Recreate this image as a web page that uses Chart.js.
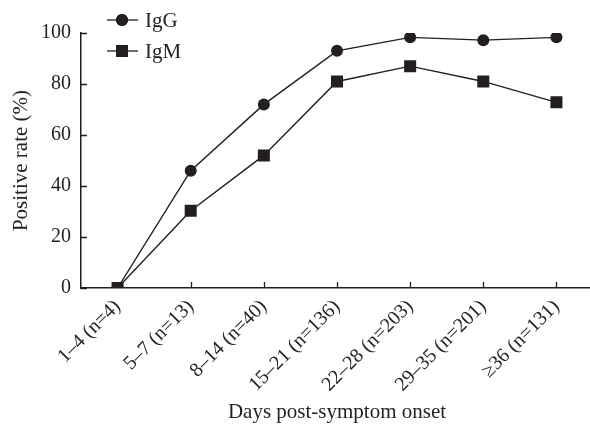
<!DOCTYPE html>
<html>
<head>
<meta charset="utf-8">
<script src="https://cdn.jsdelivr.net/npm/chart.js@4"></script>
<style>
    html, body { margin: 0; padding: 0; background: #fff; overflow: hidden; }
    #charts { width: 593px; height: 433px; }
</style>
</head>
<body>
<div id="charts"><canvas id="myChart"></canvas></div>
<script>
const dias = ['1–4 (n=4)', '5–7 (n=13)', '8–14 (n=40)', '15–21 (n=136)', '22–28 (n=203)', '29–35 (n=201)', '≥36 (n=131)']
const igg = [0, 46, 72, 93, 98.3, 97.2, 98.3]
const igm = [0, 30.3, 52, 81, 87, 81, 72.8]
const ticksY = [0, 20, 40, 60, 80, 100]

const tinta = '#231f20'
const fuente = 'Liberation Serif, Times New Roman, serif'

// marcas de los ejes hacia adentro
const marcas = {
    id: 'marcas',
    beforeDatasetsDraw(chart) {
        const c = chart.ctx
        const xs = chart.scales.x
        const ys = chart.scales.y
        c.save()
        c.strokeStyle = tinta
        c.lineWidth = 1.3
        c.beginPath()
        for (let i = 0; i < xs.ticks.length; i++) {
            const px = Math.round(xs.getPixelForTick(i)) + 0.5
            c.moveTo(px, ys.bottom)
            c.lineTo(px, ys.bottom - 6)
        }
        for (let i = 0; i < ys.ticks.length; i++) {
            const py = Math.round(ys.getPixelForTick(i)) + 0.5
            c.moveTo(xs.left, py)
            c.lineTo(xs.left + 6, py)
        }
        c.stroke()
        c.restore()
    }
}

// leyenda con linea y marcador
const leyenda = {
    id: 'leyenda',
    afterDraw(chart) {
        const c = chart.ctx
        c.save()
        chart.data.datasets.forEach((ds, i) => {
            const y = 20 + i * 31
            c.strokeStyle = tinta
            c.lineWidth = 1.3
            c.beginPath()
            c.moveTo(107, y)
            c.lineTo(138, y)
            c.stroke()
            Chart.helpers.drawPoint(c, {
                pointStyle: ds.pointStyle,
                radius: ds.pointRadius,
                borderWidth: 0
            }, 122, y)
            c.fillStyle = tinta
            c.fill()
            c.font = '21px ' + fuente
            c.textBaseline = 'middle'
            c.fillText(ds.label, 145, y + 1)
        })
        c.restore()
    }
}

const ctx = document.getElementById('myChart')
new Chart(ctx, {
    type: 'line',
    data: {
        labels: dias,
        datasets: [{
            label: 'IgG',
            data: igg,
            borderColor: tinta,
            backgroundColor: tinta,
            borderWidth: 1.4,
            pointStyle: 'circle',
            pointRadius: 6,
            pointBorderWidth: 0
        }, {
            label: 'IgM',
            data: igm,
            borderColor: tinta,
            backgroundColor: tinta,
            borderWidth: 1.4,
            pointStyle: 'rect',
            pointRadius: 8.5,
            pointBorderWidth: 0
        }]
    },
    options: {
        responsive: true,
        maintainAspectRatio: false,
        animation: false,
        layout: { autoPadding: false, padding: { top: 33, right: 0, left: 0, bottom: 0 } },
        plugins: {
            legend: { display: false },
            tooltip: { enabled: false }
        },
        scales: {
            x: {
                offset: true,
                grid: { display: false, drawTicks: false },
                border: { color: tinta, width: 1.5 },
                ticks: {
                    color: tinta,
                    font: { family: fuente, size: 20 },
                    minRotation: 45,
                    maxRotation: 45,
                    padding: 7
                },
                title: {
                    display: true,
                    text: 'Days post-symptom onset',
                    color: tinta,
                    font: { family: fuente, size: 21 },
                    padding: { top: 4, bottom: 8 }
                },
                afterFit(scale) {
                    scale.height = 145
                    scale.paddingRight = 0
                    scale.paddingLeft = 0
                }
            },
            y: {
                min: 0,
                max: 100,
                afterBuildTicks(scale) { scale.ticks = ticksY.map(v => ({ value: v })) },
                grid: { display: false, drawTicks: false },
                border: { color: tinta, width: 1.5 },
                ticks: {
                    color: tinta,
                    font: { family: fuente, size: 20 },
                    padding: 10
                },
                title: {
                    display: true,
                    text: 'Positive rate (%)',
                    color: tinta,
                    font: { family: fuente, size: 21 },
                    padding: { top: 9, bottom: 0 }
                },
                afterFit(scale) {
                    scale.width = 81
                    scale.paddingTop = 0
                    scale.paddingBottom = 0
                }
            }
        }
    },
    plugins: [marcas, leyenda]
})
</script>
</body>
</html>
